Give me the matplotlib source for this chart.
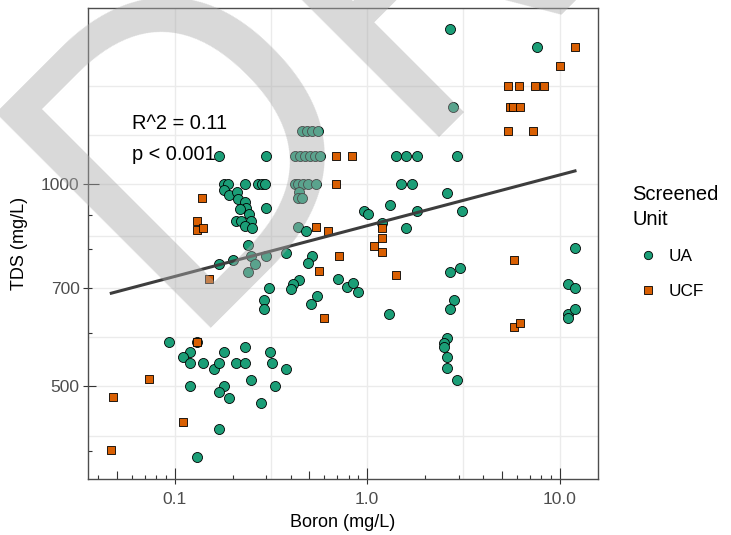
import numpy as np
import matplotlib
matplotlib.use("Agg")
import matplotlib.pyplot as plt
import matplotlib.transforms as mtransforms
from matplotlib.lines import Line2D
from matplotlib.ticker import FixedLocator, NullFormatter

plt.rcParams['font.family'] = ['Liberation Sans', 'DejaVu Sans']

# Screened unit UA (circles)
ua_boron = [2.70, 7.6, 2.8,
            0.457, 0.485, 0.515, 0.553,
            0.170, 0.30, 0.42, 0.446, 0.474, 0.503, 0.534, 0.567, 1.41, 1.60, 1.81, 2.91,
            0.18, 0.189, 0.231, 0.27, 0.285, 0.295, 0.42, 0.437, 0.464, 0.493, 0.545, 1.50, 1.70,
            0.18, 0.191, 0.211, 0.213, 0.233, 0.234, 0.218, 0.242, 0.248, 0.209, 0.222, 0.233, 0.252, 0.30,
            0.441, 0.437, 0.461,
            0.240, 0.201, 0.170, 0.250, 0.260, 0.240, 0.30, 0.380, 0.437, 0.479, 0.519, 0.491,
            0.705, 0.441, 0.412, 0.40, 0.309, 0.291, 0.291, 0.55, 0.51, 0.787, 0.844, 0.90, 1.30,
            0.963, 1.006, 1.31, 1.81, 3.12, 2.60, 1.60, 1.20,
            11.96, 11.0, 12.0, 11.0, 11.0, 12.0,
            2.70, 3.02, 2.81, 2.70, 2.60, 2.51, 2.51, 2.60, 2.60, 2.91,
            0.231, 0.093, 0.130, 0.120, 0.110, 0.120, 0.140, 0.160, 0.170, 0.180, 0.209, 0.231,
            0.311, 0.32, 0.380, 0.250, 0.331, 0.120, 0.180, 0.170, 0.191, 0.282, 0.170, 0.130]
ua_tds = [1700, 1600, 1300,
          1200, 1200, 1200, 1200,
          1100, 1100, 1100, 1100, 1100, 1100, 1100, 1100, 1100, 1100, 1100, 1100,
          1000, 1000, 1000, 1000, 1000, 1000, 1000, 1000, 1000, 1000, 1000, 1000, 1000,
          980, 963, 972, 949, 940, 920, 918, 903, 882, 881, 880, 866, 859, 920,
          974, 952, 952,
          811, 772, 760, 781, 760, 741, 781, 790, 862, 852, 782, 762,
          722, 720, 710, 698, 700, 671, 651, 682, 662, 702, 712, 692, 641,
          912, 901, 931, 912, 912, 971, 861, 875,
          802, 711, 700, 641, 632, 651,
          741, 750, 671, 651, 591, 581, 572, 552, 532, 511,
          572, 582, 582, 562, 552, 542, 542, 530, 542, 562, 542, 542,
          562, 542, 530, 511, 501, 501, 501, 491, 481, 472, 432, 392]

# Screened unit UCF (squares)
ucf_boron = [12.0, 10.0, 5.39, 6.12, 7.41, 8.33, 5.50, 5.75, 6.25, 5.39, 7.27,
             0.688, 0.836, 0.69, 0.139, 0.130, 0.130, 0.140, 0.151, 0.54, 0.627,
             0.711, 0.56, 0.60, 1.20, 1.20, 1.09, 1.20, 1.41, 5.79, 5.79, 6.20,
             0.130, 0.0735, 0.0478, 0.110, 0.0469]
ucf_tds = [1600, 1500, 1400, 1400, 1400, 1400, 1300, 1300, 1300, 1200, 1200,
           1100, 1100, 1000, 952, 881, 853, 861, 722, 862, 852,
           782, 742, 632, 860, 831, 810, 792, 732, 771, 612, 621,
           582, 513, 482, 442, 402]

# fitted line (log-log lm)
fit_boron = [0.0469, 12.0]
fit_tds = [688, 1046]

x_breaks = [0.1, 1.0, 10.0]
x_labels = ['0.1', '1.0', '10.0']
y_breaks = [500, 700, 1000]
y_labels = ['500', '700', '1000']

col_ua = '#1B9E77'
col_ucf = '#D95F02'

fig = plt.figure(figsize=(7.31, 5.35), dpi=100)
ax = fig.add_axes([88 / 731, 56 / 535, 510 / 731, 471 / 535])
ax.set_xscale('log')
ax.set_yscale('log')
ax.set_xlim(0.0355, 15.8)
ax.set_ylim(364, 1828)

# breaks + ggplot style minor grid (midpoints in log space)
ax.set_xticks(x_breaks, x_labels)
ax.set_yticks(y_breaks, y_labels)
ax.xaxis.set_minor_locator(FixedLocator([np.sqrt(0.1 * 1), np.sqrt(1 * 10)]))
ax.yaxis.set_minor_locator(FixedLocator([np.sqrt(357 * 500), np.sqrt(500 * 700),
                                         np.sqrt(700 * 1000), np.sqrt(1000 * 1400), 1400]))
ax.xaxis.set_minor_formatter(NullFormatter())
ax.yaxis.set_minor_formatter(NullFormatter())
ax.grid(which='both', color='#ebebeb', lw=1.0)
ax.set_axisbelow(True)
ax.tick_params(which='major', direction='out', length=3.6, width=0.8, color='#333333',
               labelsize=12.5, labelcolor='#4d4d4d')
ax.tick_params(axis='x', which='major', pad=6)
ax.tick_params(axis='y', which='major', pad=2.5)
ax.tick_params(which='minor', length=0)
for s in ax.spines.values():
    s.set_color('#4d4d4d')
    s.set_linewidth(1.0)

# log ticks inside the panel (short / mid / long)
def logtick_vals(lo, hi):
    out = {'short': [], 'mid': [], 'long': []}
    for d in range(-3, 5):
        for k in range(1, 10):
            v = k * 10.0 ** d
            if lo <= v <= hi:
                key = 'long' if k == 1 else ('mid' if k == 5 else 'short')
                out[key].append(v)
    return out

lens = {'short': 3.1, 'mid': 5.5, 'long': 8.1}
tx = mtransforms.blended_transform_factory(ax.transData, ax.transAxes)
ty = mtransforms.blended_transform_factory(ax.transAxes, ax.transData)
for key, vals in logtick_vals(*ax.get_xlim()).items():
    ax.plot(vals, [0] * len(vals), transform=tx, ls='none', marker=2, ms=lens[key],
            mew=0.8, color='#333333', clip_on=False)
for key, vals in logtick_vals(*ax.get_ylim()).items():
    ax.plot([0] * len(vals), vals, transform=ty, ls='none', marker=1, ms=lens[key],
            mew=0.8, color='#333333', clip_on=False)

ax.scatter(ua_boron, ua_tds, s=52, marker='o', c=col_ua, edgecolors='black',
           linewidths=0.6, zorder=3)
ax.scatter(ucf_boron, ucf_tds, s=40, marker='s', c=col_ucf, edgecolors='black',
           linewidths=0.6, zorder=3)

ax.plot(fit_boron, fit_tds, color='#3d3d3d', lw=2.2, zorder=4)

ax.text(0.0863, 0.7425, 'R^2 = 0.11', transform=ax.transAxes, fontsize=14.4, va='baseline')
ax.text(0.0863, 0.677, 'p < 0.001', transform=ax.transAxes, fontsize=14.4, va='baseline')

ax.set_xlabel('Boron (mg/L)', fontsize=13, labelpad=5)
ax.set_ylabel('TDS (mg/L)', fontsize=13, labelpad=9)

handles = [Line2D([], [], ls='none', marker='o', ms=6, mfc=col_ua, mec='black', mew=0.6),
           Line2D([], [], ls='none', marker='s', ms=5.5, mfc=col_ucf, mec='black', mew=0.6)]
leg = fig.legend(handles, ['UA', 'UCF'], title='Screened\nUnit', loc='upper left',
                 bbox_to_anchor=(632 / 731, 1 - 185 / 535), frameon=False, fontsize=12.4,
                 title_fontsize=14.5, alignment='left', handlelength=1.9, handletextpad=0.25,
                 labelspacing=1.15, borderpad=0, borderaxespad=0)
leg.get_title().set_linespacing(1.4)

# draft watermark (Agg offsets the ink from the anchor, so anchors sit left of the glyphs)
wm = dict(rotation=45, rotation_mode='anchor', ha='left', va='baseline',
          family=['Open Sans', 'DejaVu Sans'], fontsize=307, color='#aaaaaa',
          alpha=0.45, zorder=10)
fig.text(169 / 731, 1 - 328 / 535, 'D', **wm)
fig.text(398 / 731, 1 - 138 / 535, 'RAFT', **wm)

fig.savefig('out.png', dpi=100)
